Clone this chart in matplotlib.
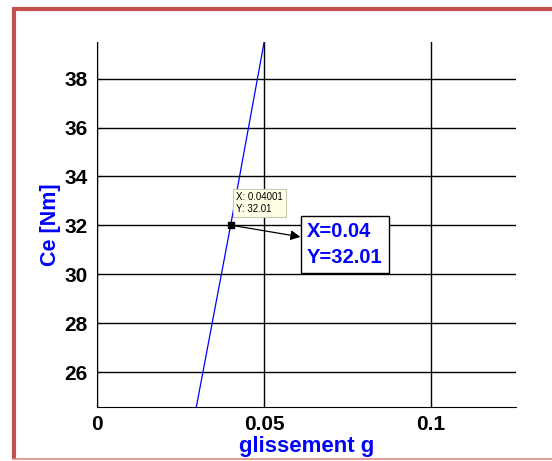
import numpy as np
import matplotlib.pyplot as plt
from matplotlib.lines import Line2D

plt.rcParams['font.family'] = ['Liberation Sans', 'DejaVu Sans']

# courbe Ce(g) pres du point de fonctionnement
g = np.array([0.0295, 0.04001, 0.0503])
Ce = np.array([24.4, 32.01, 39.7])
xticks = [0, 0.05, 0.1]
xticklabels = ['0', '0.05', '0.1']
yticks = [26, 28, 30, 32, 34, 36, 38]
pt_x = 0.04001
pt_y = 32.01

fig = plt.figure(figsize=(5.52, 4.61), dpi=100)
ax = fig.add_axes([0.1757, 0.1171, 0.759, 0.7918])

ax.plot(g, Ce, color='blue', lw=0.9)
ax.set_xlim(0, 0.1254)
ax.set_ylim(24.57, 39.5)

ax.set_xticks(xticks)
ax.set_xticklabels(xticklabels)
ax.set_yticks(yticks)
ax.grid(True, color='black', lw=1.0, ls='-')
ax.tick_params(direction='in', length=3, labelsize=15)
ax.tick_params(axis='y', pad=7)
ax.tick_params(axis='x', pad=6)
for lab in ax.get_xticklabels() + ax.get_yticklabels():
    lab.set_fontweight('bold')
ax.spines['top'].set_visible(False)
ax.spines['right'].set_visible(False)

ax.set_xlabel('glissement g', color='blue', fontsize=16, fontweight='bold', labelpad=1)
ax.set_ylabel('Ce [Nm]', color='blue', fontsize=15.5, fontweight='bold', labelpad=2)

# datatip
ax.plot([pt_x], [pt_y], 's', color='black', ms=5, zorder=5)
ax.annotate('X: 0.04001\nY: 32.01', xy=(pt_x, pt_y), xytext=(4, 8),
            textcoords='offset points', fontsize=7, va='bottom', ha='left',
            bbox=dict(boxstyle='square,pad=0.35', fc='#ffffe6', ec='#c8c8b4', lw=0.8),
            zorder=6)

# annotation
ax.annotate('X=0.04\nY=32.01', xy=(pt_x, pt_y), xytext=(307, 239),
            textcoords='figure pixels', fontsize=14.5, fontweight='bold', color='blue',
            va='top', ha='left', linespacing=1.45,
            bbox=dict(boxstyle='square,pad=0.3', fc='white', ec='black', lw=1.0),
            arrowprops=dict(arrowstyle='<|-', color='black', lw=0.9,
                            shrinkA=0, shrinkB=0),
            zorder=6)

# cadre rouge
red = '#c0504d'
fig.add_artist(Line2D([0.025, 0.025], [0.005, 0.983], transform=fig.transFigure,
                      color=red, lw=3, solid_capstyle='butt'))
fig.add_artist(Line2D([0.022, 1.0], [0.981, 0.981], transform=fig.transFigure,
                      color=red, lw=3, solid_capstyle='butt'))
fig.add_artist(Line2D([0.022, 1.0], [0.005, 0.005], transform=fig.transFigure,
                      color='#d98a88', lw=1.2, solid_capstyle='butt'))

fig.savefig('out.png', dpi=100)
